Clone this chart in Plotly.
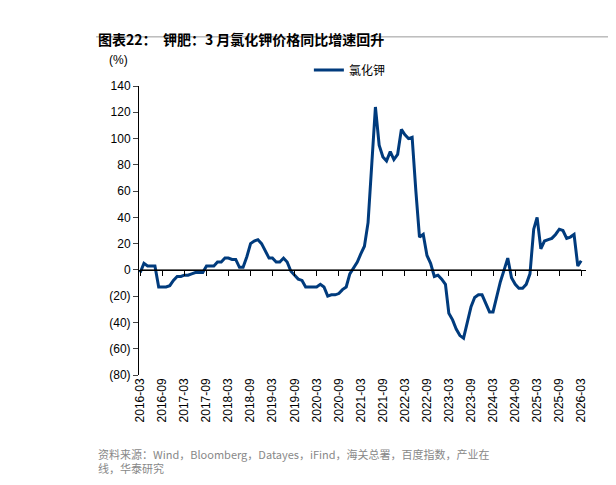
import plotly.graph_objects as go
import pandas as pd

dates = pd.date_range("2016-03-01", "2026-03-01", freq="MS")
y2016 = [-2, 5, 3, 3, 3, -13, -13, -13, -12, -8]
y2017 = [-5, -5, -4, -4, -3, -2, -2, -2, 3, 3, 3, 6]
y2018 = [6, 9, 9, 8, 8, 2, 2, 10, 20, 22, 23, 20]
y2019 = [14, 9, 9, 6, 6, 9, 6, -1, -4, -7, -8, -13]
y2020 = [-13, -13, -13, -11, -13, -20, -19, -19, -18, -15, -13, -3]
y2021 = [2, 6, 12, 18, 36, 80, 124, 95, 86, 83, 90, 84]
y2022 = [88, 107, 103, 100, 101, 60, 25, 27, 11, 5, -5, -4]
y2023 = [-7, -11, -33, -38, -45, -50, -52, -40, -28, -21, -19, -19]
y2024 = [-26, -32, -32, -20, -9, 0, 9, -6, -11, -14, -14, -11]
y2025 = [-3, 31, 40, 16, 22, 23, 24, 27, 31, 30, 24, 25]
y2026 = [27, 3, 7]
values = y2016 + y2017 + y2018 + y2019 + y2020 + y2021 + y2022 + y2023 + y2024 + y2025 + y2026
dates = dates[:len(values)]

tickvals = pd.date_range("2016-03-01", "2026-03-01", freq="6MS")
ticktext = [d.strftime("%Y-%m") for d in tickvals]
yt = list(range(-80, 141, 20))
ytext = [f"({abs(v)})" if v < 0 else str(v) for v in yt]

font = "Noto Sans CJK SC"
fig = go.Figure()
fig.add_trace(go.Scatter(x=dates, y=values, mode="lines", name="氯化钾",
                         line=dict(color="#003B7D", width=3)))
fig.add_trace(go.Scatter(x=[dates[0], dates[-1]], y=[0, 0], xaxis="x2", mode="lines",
                         line=dict(color="black", width=1), showlegend=False, hoverinfo="skip"))
xr = [pd.Timestamp("2016-02-20"), pd.Timestamp("2026-04-10")]
fig.update_layout(
    width=616, height=485, plot_bgcolor="white", paper_bgcolor="white",
    margin=dict(l=131, r=38, t=78, b=118, autoexpand=False),
    font=dict(family=font, size=12, color="black"),
    showlegend=True,
    legend=dict(x=0.555, y=1 - 62/485, xref="container", yref="container",
                xanchor="center", yanchor="middle", orientation="h",
                font=dict(size=12), bgcolor="rgba(0,0,0,0)"),
    xaxis=dict(range=xr, tickvals=tickvals, ticktext=ticktext, tickangle=-90,
               showgrid=False, showline=False, ticks="", tickfont=dict(size=12, family="Liberation Sans")),
    xaxis2=dict(range=xr, overlaying="x", anchor="free", position=80/220, tickvals=tickvals,
                showticklabels=False, ticks="outside", ticklen=5, tickcolor="black",
                showline=True, linecolor="black", showgrid=False),
    yaxis=dict(range=[-80, 140], tickvals=yt, ticktext=ytext, showgrid=False, showline=True,
               linecolor="black", ticks="outside", ticklen=5, zeroline=False,
               tickfont=dict(size=12, family="Liberation Sans")),
)
fig.add_annotation(text="(%)", x=-0.02, y=1.12, xref="paper", yref="paper", showarrow=False,
                   xanchor="right", font=dict(size=12, family="Liberation Sans"))
fig.add_annotation(text="<b>图表22：  钾肥：3 月氯化钾价格同比增速回升</b>", x=-0.096, y=1.205,
                   xref="paper", yref="paper", showarrow=False, xanchor="left",
                   font=dict(size=14))
fig.add_shape(type="line", xref="paper", yref="paper", x0=-0.096, x1=1.08, y0=1.17, y1=1.17,
              line=dict(color="#999999", width=1))
fig.add_annotation(text="资料来源：Wind，Bloomberg，Datayes，iFind，海关总署，百度指数，产业在<br>线，华泰研究",
                   x=-0.096, y=-0.24, xref="paper", yref="paper", showarrow=False, xanchor="left",
                   yanchor="top", align="left", font=dict(size=11, color="#888888"))
fig.write_html("out.html")
